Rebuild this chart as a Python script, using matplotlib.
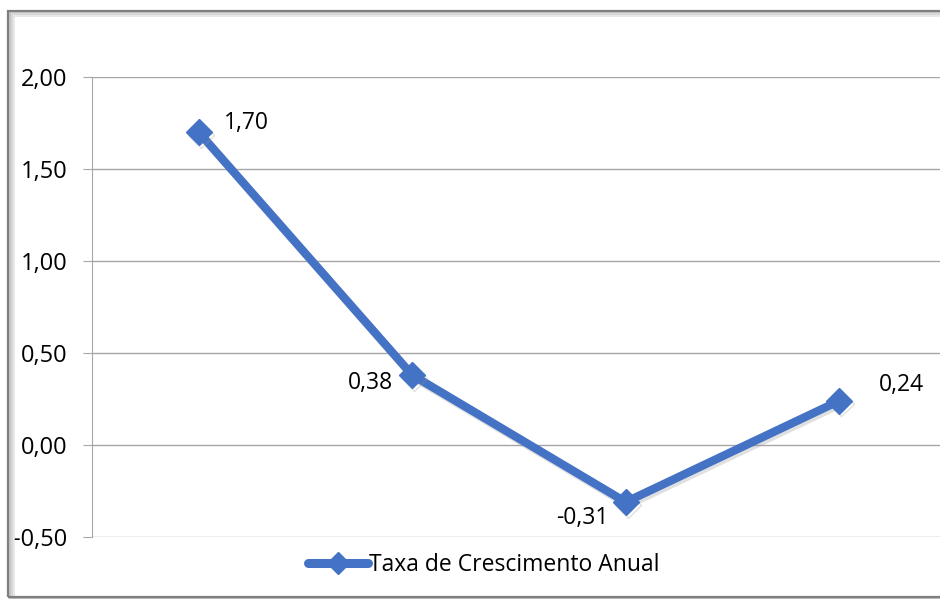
import matplotlib
matplotlib.use('Agg')
import matplotlib.pyplot as plt
from matplotlib import patches as mpatches
from matplotlib import patheffects as pe
from matplotlib.lines import Line2D

categories = ['1', '2', '3', '4']
values = [1.70, 0.38, -0.31, 0.24]
yticks = [-0.5, 0.0, 0.5, 1.0, 1.5, 2.0]
label_offsets = [(34, 6.5), (-30, -6), (-31, -11.5), (45, 11.5)]
series_name = 'Taxa de Crescimento Anual'

plt.rcParams['font.family'] = ['Open Sans', 'DejaVu Sans']
blue = '#4472C4'
grid = '#A6A6A6'

fig = plt.figure(figsize=(9.4, 5.99), dpi=100)
W, H = 940, 599

# chart frame with a shadowed grey border
for i, c in enumerate(['#e4e4e4', '#d0d0d0', '#bcbcbc']):
    fig.patches.append(mpatches.Rectangle(((9 + 5 - i * 2) / W, 0), 1, (588 - 5 + i * 2) / H,
                                          transform=fig.transFigure, fill=False,
                                          edgecolor=c, lw=1.2, zorder=0))
fig.patches.append(mpatches.Rectangle((8 / W, 2 / H), 1, 586 / H, transform=fig.transFigure,
                                      fill=False, edgecolor='#7f7f7f', lw=1.6, zorder=1))

ax = fig.add_axes([92 / W, 62 / H, 854 / W, 460 / H])
ax.set_facecolor('none')
x = list(range(len(categories)))
ax.plot(x, values, color=blue, lw=6, marker='D', ms=13, mec=blue, mfc=blue,
        solid_capstyle='round', zorder=3,
        path_effects=[pe.SimpleLineShadow(offset=(1.5, -2), shadow_color='#999999', alpha=0.3),
                      pe.Normal()])
for xi, v, off in zip(x, values, label_offsets):
    ax.annotate('{:.2f}'.format(v).replace('.', ','), (xi, v), xytext=off,
                textcoords='offset points', ha='center', va='center', fontsize=16.5)

ax.set_xlim(-0.5, len(categories) - 0.5)
ax.set_ylim(-0.5, 2.0)
ax.set_yticks(yticks)
ax.set_yticklabels(['{:.2f}'.format(t).replace('.', ',') for t in yticks], fontsize=17)
ax.yaxis.grid(True, color=grid, lw=1)
ax.set_xticks([])
for s in ['top', 'right', 'bottom']:
    ax.spines[s].set_visible(False)
ax.spines['left'].set_color(grid)
ax.tick_params(axis='y', length=6.5, color=grid, pad=11)

handle = Line2D([], [], color=blue, lw=6.5, marker='D', ms=11, solid_capstyle='round')
fig.legend(handles=[handle], labels=[series_name], loc='center', bbox_to_anchor=(484 / W, 34 / H),
           frameon=False, fontsize=16.5, handlelength=2.6, handletextpad=0.05)

plt.savefig('out.png', dpi=100)
